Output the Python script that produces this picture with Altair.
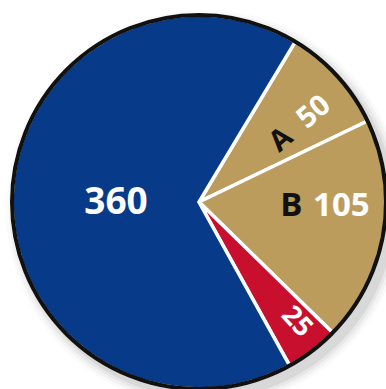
import math
import altair as alt
import pandas as pd

# data
categories = ["A", "B", "C", "D"]
values = [50, 105, 25, 360]
colors = ["#bb9c5c", "#bb9c5c", "#c8102e", "#083a8a"]
letters = ["A", "B", "", ""]

total = sum(values)
start = math.radians(31)
CX, CY, R = 199, 202, 187

df = pd.DataFrame({"cat": categories, "value": values, "color": colors,
                   "letter": letters, "order": list(range(len(values)))})

theta_scale = alt.Scale(domain=[0, total], range=[start, start + 2 * math.pi])

base = alt.Chart(df).encode(x=alt.value(CX), y=alt.value(CY))

# soft shadow
shadows = []
for rr, op in [(190, 0.06), (193, 0.045), (196, 0.03), (199, 0.02)]:
    shadows.append(
        base.mark_arc(theta=0, theta2=2 * math.pi, radius=rr, fill="#000000",
                      fillOpacity=op, stroke="transparent")
        .encode(x=alt.value(CX + 6), y=alt.value(CY + 7))
        .transform_filter(alt.datum.order == 0)
    )

slices = base.mark_arc(radius=R, stroke="white", strokeWidth=3.5, strokeJoin="miter").encode(
    theta=alt.Theta("value:Q", stack=True, scale=theta_scale),
    order=alt.Order("order:Q"),
    color=alt.Color("color:N", scale=None),
)

ring = base.mark_arc(theta=0, theta2=2 * math.pi, radius=R, filled=False,
                     stroke="#111111", strokeWidth=4).transform_filter(alt.datum.order == 0)

lab = base.transform_window(
    cum="sum(value)", sort=[alt.SortField("order")], frame=[None, 0]
).transform_calculate(mid="datum.cum - datum.value / 2")

def txt(filt, text, r, size, color, angle=0, dx=0, dy=0):
    kw = dict(radius=r, fontSize=size, font="Open Sans", fontWeight="bold",
              color=color, align="center", baseline="middle", dx=dx, dy=dy)
    if angle:
        kw["angle"] = angle
    return lab.transform_filter(filt).mark_text(**kw).encode(
        theta=alt.Theta("mid:Q", scale=theta_scale),
        text=text,
    )

t360 = txt(alt.datum.order == 3, "value:Q", 83, 37, "white", dy=2)
tA = txt(alt.datum.order == 0, "letter:N", 124, 29, "#111111", angle=319.6, dx=-21, dy=10)
t50 = txt(alt.datum.order == 0, "value:Q", 124, 29, "white", angle=319.6, dx=22, dy=10)
tB = txt(alt.datum.order == 1, "letter:N", 127, 33, "#111111", dx=-33, dy=-17)
t105 = txt(alt.datum.order == 1, "value:Q", 127, 33, "white", dx=17, dy=-17)
t25 = txt(alt.datum.order == 2, "value:Q", 155, 27, "white", angle=47, dy=-5)

chart = alt.layer(*shadows, slices, ring, t360, tA, t50, tB, t105, t25).properties(
    width=386, height=389, padding=0, autosize="none"
).configure_view(stroke=None)

chart.save("out.html", embed_options={"renderer": "svg", "actions": False})
